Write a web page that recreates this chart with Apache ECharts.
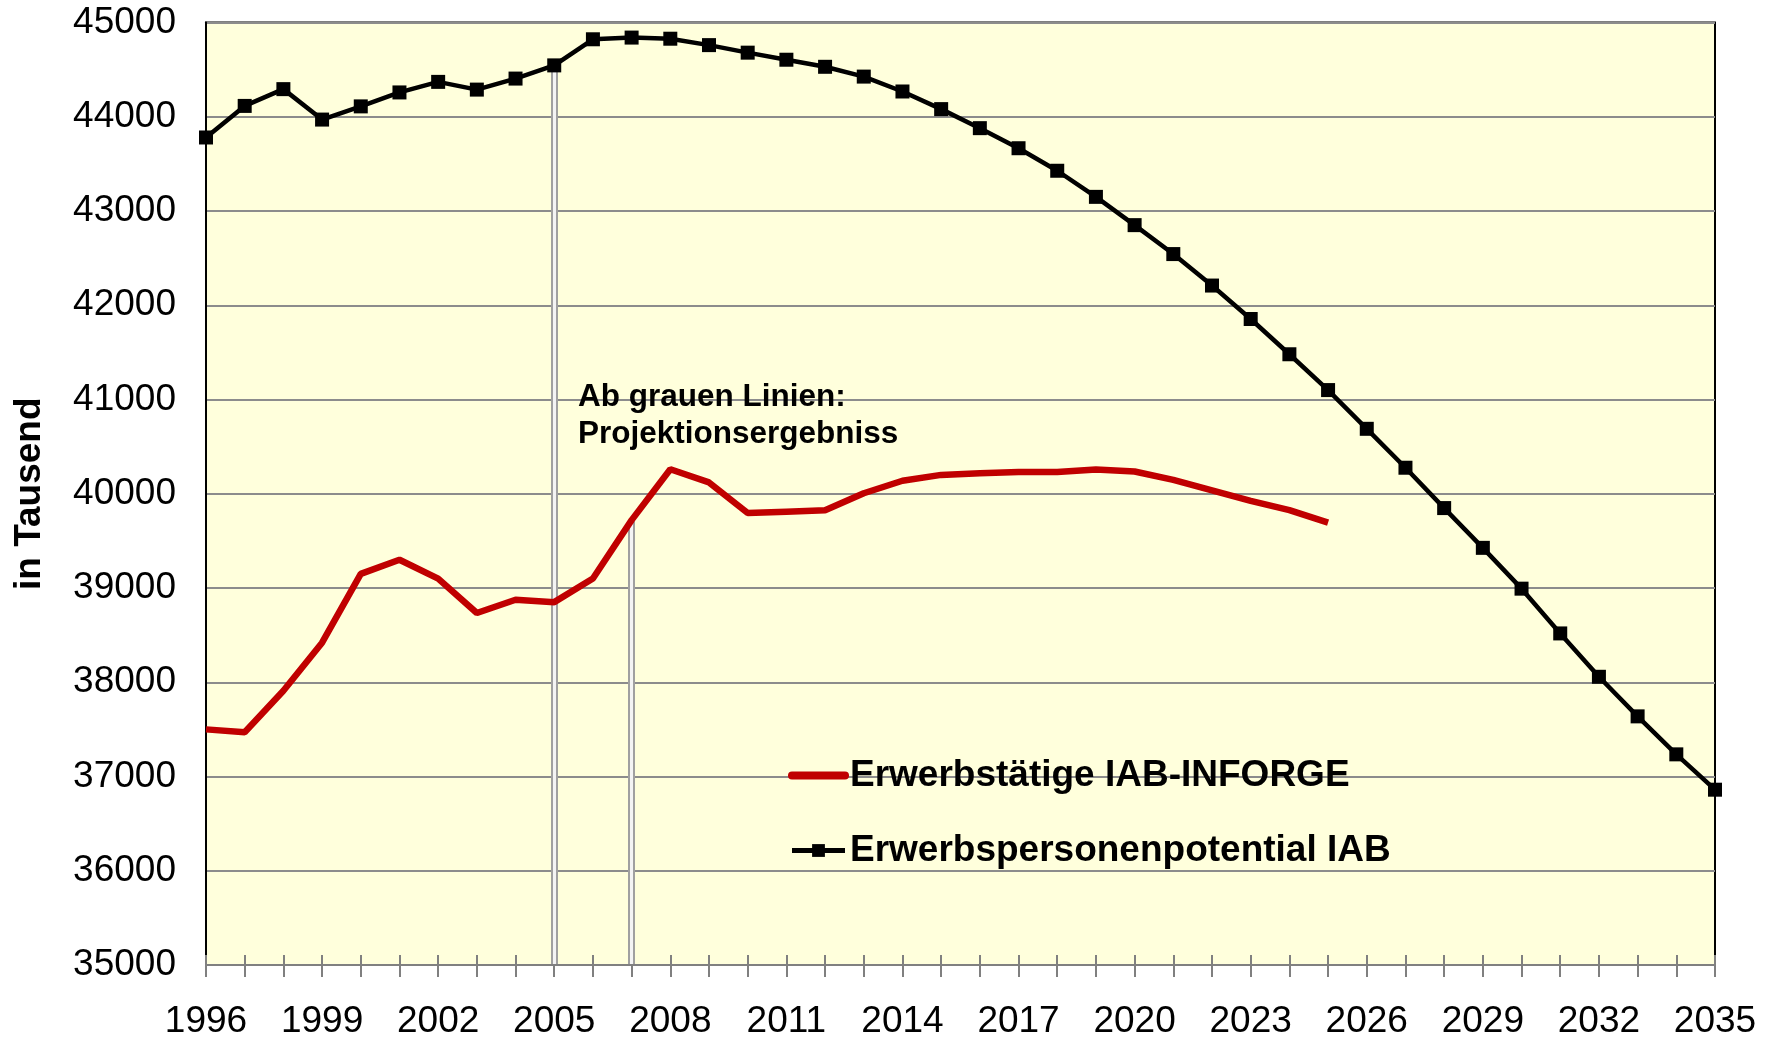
<!DOCTYPE html>
<html>
<head>
<meta charset="utf-8">
<script src="https://cdn.jsdelivr.net/npm/echarts@6/dist/echarts.min.js"></script>
<style>
  html, body { margin: 0; padding: 0; background: #fff; }
  #chart { width: 1767px; height: 1040px; }
</style>
</head>
<body>
<div id="chart"></div>
<script>
// Jahre 1996 - 2035
var years = [];
for (var y = 1996; y <= 2035; y++) years.push(String(y));

// Erwerbstätige IAB-INFORGE (bis 2025)
var erwerbstaetige = [37500, 37470, 37910, 38420, 39150, 39300, 39100, 38735, 38875, 38850,
  39100, 39720, 40260, 40120, 39795, 39810, 39825, 40005, 40138, 40200,
  40218, 40232, 40232, 40258, 40236, 40147, 40036, 39924, 39826, 39693];

// Erwerbspersonenpotential IAB
var potential = [43780, 44115, 44293, 43970, 44110, 44258, 44370, 44288, 44405, 44545,
  44822, 44840, 44828, 44760, 44680, 44605, 44530, 44426, 44268, 44081,
  43879, 43666, 43427, 43150, 42850, 42543, 42209, 41854, 41480, 41100,
  40689, 40276, 39848, 39426, 38993, 38518, 38058, 37638, 37235, 36860];

// graue Linien: Beginn der Projektion
var projYearPot = '2005';
var projYearErw = '2007';

var yTicks = {min: 35000, max: 45000, step: 1000};

var chart = echarts.init(document.getElementById('chart'));
var font = 'Liberation Sans, Arial, sans-serif';

function greyLine(year, value) {
  return [
    [{coord: [year, value], lineStyle: {color: '#A0A0A0', width: 7, type: 'solid'}}, {coord: [year, yTicks.min]}],
    [{coord: [year, value], lineStyle: {color: '#F4F4F4', width: 3, type: 'solid'}}, {coord: [year, yTicks.min]}]
  ];
}

var option = {
  animation: false,
  textStyle: {fontFamily: font},
  grid: {
    left: 206, right: 52, top: 22.5, bottom: 73,
    show: true,
    backgroundColor: '#FFFFDC',
    borderColor: '#000',
    borderWidth: 2
  },
  legend: {
    orient: 'vertical',
    left: 783,
    top: 752,
    itemWidth: 53,
    itemHeight: 16,
    itemGap: 38,
    textStyle: {fontFamily: font, fontSize: 37, fontWeight: 'bold', color: '#000'},
    data: [
      {name: 'Erwerbstätige IAB-INFORGE', itemStyle: {opacity: 0}, lineStyle: {width: 8, cap: 'round'}},
      {name: 'Erwerbspersonenpotential IAB', lineStyle: {width: 5}}
    ]
  },
  xAxis: [{
    type: 'category',
    data: years,
    boundaryGap: false,
    axisLine: {lineStyle: {color: '#808080', width: 2}},
    axisTick: {show: true, interval: 0, length: 12, lineStyle: {color: '#808080', width: 2}},
    axisLabel: {interval: 2, fontSize: 37, color: '#000', margin: 38, fontFamily: font},
    splitLine: {show: false},
    z: 5
  }, {
    type: 'category',
    data: years,
    boundaryGap: false,
    position: 'bottom',
    axisLine: {show: false},
    axisTick: {show: true, inside: true, interval: 0, length: 10, lineStyle: {color: '#808080', width: 2}},
    axisLabel: {show: false},
    splitLine: {show: false}
  }],
  yAxis: {
    type: 'value',
    min: yTicks.min,
    max: yTicks.max,
    interval: yTicks.step,
    name: 'in Tausend',
    nameLocation: 'middle',
    nameGap: 158,
    nameTextStyle: {fontSize: 37, fontWeight: 'bold', color: '#000', fontFamily: font},
    axisLine: {show: true, lineStyle: {color: '#000', width: 2}},
    axisTick: {show: false},
    axisLabel: {fontSize: 37, color: '#000', margin: 30, fontFamily: font,
      formatter: function (v) { return String(v); }},
    splitLine: {lineStyle: {color: '#8C8C8C', width: 2}}
  },
  graphic: [{
    type: 'text',
    left: 578,
    top: 379,
    z: 10,
    style: {
      text: 'Ab grauen Linien:\nProjektionsergebniss',
      font: 'bold 31.5px ' + font,
      fill: '#000',
      lineHeight: 37
    }
  }],
  series: [{
    name: 'Erwerbstätige IAB-INFORGE',
    type: 'line',
    data: erwerbstaetige,
    symbol: 'none',
    color: '#C00000',
    lineStyle: {color: '#C00000', width: 6.5},
    z: 3,
    markLine: {
      silent: true,
      symbol: 'none',
      label: {show: false},
      z: 1,
      data: greyLine(projYearErw, erwerbstaetige[years.indexOf(projYearErw)])
    }
  }, {
    name: 'Erwerbspersonenpotential IAB',
    type: 'line',
    data: potential,
    symbol: 'rect',
    symbolSize: 14,
    color: '#000',
    itemStyle: {color: '#000'},
    lineStyle: {color: '#000', width: 4.5},
    z: 4,
    markLine: {
      silent: true,
      symbol: 'none',
      label: {show: false},
      z: 1,
      data: greyLine(projYearPot, potential[years.indexOf(projYearPot)])
    }
  }]
};

chart.setOption(option);
</script>
</body>
</html>
